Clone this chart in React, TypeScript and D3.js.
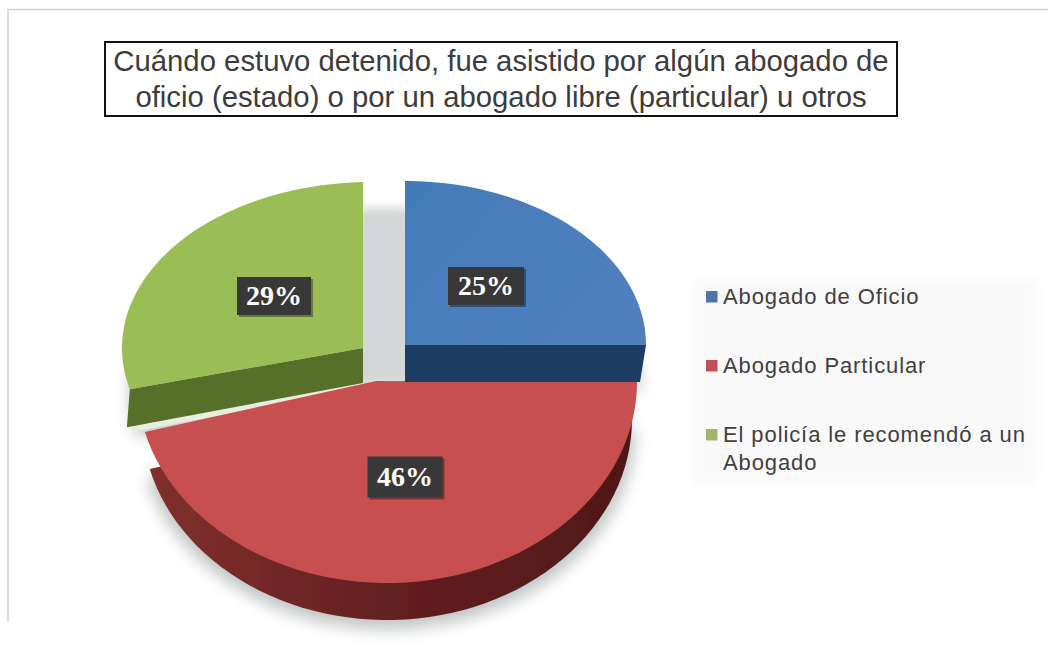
import React from "react";
import * as d3 from "d3";

const categories = ["Abogado de Oficio", "Abogado Particular", "El policía le recomendó a un Abogado"];
const values = [25, 46, 29];
const titleLines = [
  "Cuándo estuvo detenido, fue asistido por algún abogado de",
  "oficio (estado) o por un abogado libre (particular) u otros",
];
const faceColors = ["#4a7ebb", "#c75050", "#9bbd56"];
const wallColors = ["#1f3c62", "#6a2322", "#56702c"];
const legendColors = ["#4f74a8", "#bf4f58", "#a3b56c"];

const pieGen = d3.pie<number>().sort(null).value((d) => d);
const arcs = pieGen(values);

type Geo = { cx: number; cy: number; rx: number; ry: number; ax: number; ay: number; maxX: number; lx: number; ly: number; lw: number; lh: number };
const geos: Geo[] = [
  { cx: 405, cy: 345, rx: 241, ry: 164, ax: 405, ay: 345, maxX: 9999, lx: 486, ly: 286, lw: 76, lh: 38 },
  { cx: 387, cy: 382, rx: 250, ry: 201, ax: 376, ay: 381, maxX: 9999, lx: 405, ly: 477, lw: 75, lh: 41 },
  { cx: 371, cy: 348, rx: 249, ry: 166, ax: 363, ay: 348, maxX: 363, lx: 274, ly: 296, lw: 74, lh: 38 },
];

const line = d3.line<[number, number]>().x((d) => d[0]).y((d) => d[1]);
const pt = (g: Geo, t: number, inset = 0, dy = 0): [number, number] => [
  Math.min(g.maxX, g.cx + (g.rx - inset) * Math.sin(t)),
  g.cy + dy + g.ry * -Math.cos(t),
];
const arcPts = (g: Geo, a: number, b: number, inset = 0, dy = 0) =>
  d3.range(0, 61).map((i) => pt(g, a + ((b - a) * i) / 60, inset, dy));
const facePath = (g: Geo, a: number, b: number, dy = 0, inset = 0) =>
  line([[g.ax, g.ay + dy], ...arcPts(g, a, b, inset, dy)]) + "Z";

export default function App() {
  const legendYs = [297, 366, 435];
  const blue = geos[0], red = geos[1], green = geos[2];
  const [a0, a1, a2] = arcs;
  return (
    <svg width={1048} height={650} style={{ position: "absolute", left: 0, top: 0, background: "#fff" }}>
      <defs>
        <filter id="blur" x="-20%" y="-20%" width="140%" height="140%"><feGaussianBlur stdDeviation="8" /></filter>
        <filter id="soft" x="-10%" y="-10%" width="120%" height="120%"><feGaussianBlur stdDeviation="4" /></filter>
        <filter id="gap" x="-30%" y="-20%" width="160%" height="140%"><feGaussianBlur stdDeviation="5" /></filter>
        <filter id="edge" x="-5%" y="-5%" width="110%" height="110%"><feGaussianBlur stdDeviation="0.6" /></filter>
        <linearGradient id="redWall" x1="0" x2="1" y1="0" y2="0">
          <stop offset="0" stopColor="#80302c" />
          <stop offset="0.5" stopColor="#642020" />
          <stop offset="1" stopColor="#501818" />
        </linearGradient>
        <linearGradient id="blueFace" x1="0" x2="1" y1="0" y2="0.6">
          <stop offset="0" stopColor="#447ab9" />
          <stop offset="1" stopColor="#4f80bd" />
        </linearGradient>
      </defs>
      <path d="M8,622V9.5H1048" fill="none" stroke="#cfcfcf" strokeWidth={1.5} />

      <rect x={692} y={279} width={346} height={205} fill="#f9f9f9" filter="url(#soft)" />

      <g fill="#bfc3c3" filter="url(#blur)">
        <path d={facePath(red, a1.startAngle, a1.endAngle, 46, 2)} />
        <path d={facePath(green, a2.startAngle, a2.endAngle, 48, 8)} />
        <path d={facePath(blue, a0.startAngle, a0.endAngle, 46, 6)} />
      </g>
      <rect x={358} y={208} width={52} height={176} fill="#d2d5d5" filter="url(#gap)" />

      <g filter="url(#edge)">
        <path d={facePath(red, a1.startAngle, a1.endAngle, 37, 5)} fill="url(#redWall)" />
        <path d={line([[green.ax, green.ay + 39], pt(green, a2.startAngle, 6, 41), pt(green, a2.startAngle, 2, 36), [green.ax, green.ay + 35]]) + "Z"} fill="#e8eedd" stroke="#e8eedd" strokeWidth={2} />
        <path d={facePath(red, a1.startAngle, a1.endAngle)} fill={faceColors[1]} />

        <path d={line([[blue.ax, blue.ay], pt(blue, a0.endAngle), pt(blue, a0.endAngle, 6, 37), [blue.ax, blue.ay + 37]]) + "Z"} fill={wallColors[0]} />
        <path d={facePath(blue, a0.startAngle, a0.endAngle)} fill="url(#blueFace)" />

        <path d={line([[green.ax, green.ay], pt(green, a2.startAngle), pt(green, a2.startAngle, -3, 38), [green.ax, green.ay + 35]]) + "Z"} fill={wallColors[2]} />
        <path d={facePath(green, a2.startAngle, a2.endAngle)} fill={faceColors[2]} />
      </g>

      {values.map((v, i) => {
        const g = geos[i];
        return (
          <g key={categories[i]}>
            <rect x={g.lx - g.lw / 2 + 2} y={g.ly - g.lh / 2 + 2} width={g.lw} height={g.lh} fill="#000" opacity={0.35} filter="url(#edge)" />
            <rect x={g.lx - g.lw / 2} y={g.ly - g.lh / 2} width={g.lw} height={g.lh} fill="#383838" />
            <text x={g.lx} y={g.ly + 9} textAnchor="middle" fontFamily="'Liberation Serif', serif" fontWeight="bold" fontSize={28} fill="#fff">
              {v}%
            </text>
          </g>
        );
      })}

      <rect x={105} y={42} width={792} height={74} fill="#fff" stroke="#111" strokeWidth={2} />
      {titleLines.map((t, i) => (
        <text key={t} x={501} y={71 + i * 36} textAnchor="middle" fontFamily="'Liberation Sans', Arial, sans-serif" fontSize={29.3} fill="#3c3c3c">
          {t}
        </text>
      ))}

      {categories.map((c, i) => (
        <rect key={c} x={706} y={legendYs[i] - 6} width={11.5} height={11.5} fill={legendColors[i]} />
      ))}
      <g fontFamily="'Liberation Sans', Arial, sans-serif" fontSize={22} letterSpacing={0.9} fill="#404040">
        <text x={723} y={304}>{categories[0]}</text>
        <text x={723} y={373}>{categories[1]}</text>
        <text x={723} y={442}>El policía le recomendó a un</text>
        <text x={723} y={470}>Abogado</text>
      </g>
    </svg>
  );
}
